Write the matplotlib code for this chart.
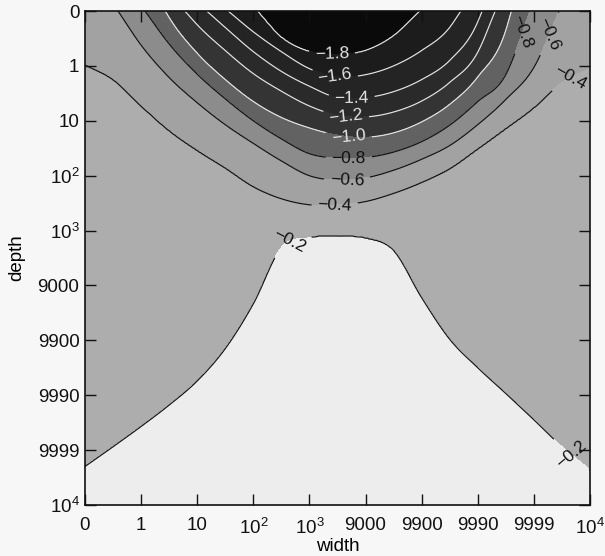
import numpy as np
import matplotlib
matplotlib.use("Agg")
import matplotlib.pyplot as plt

plt.rcParams['font.family'] = ['Liberation Sans', 'DejaVu Sans']
plt.rcParams['mathtext.fontset'] = 'custom'
plt.rcParams['mathtext.rm'] = 'Liberation Sans'
plt.rcParams['mathtext.it'] = 'Liberation Sans:italic'

# Axis tick labels (equally spaced positions on both axes)
tick_labels = ["0", "1", "10", "10$^2$", "10$^3$", "9000", "9900", "9990", "9999", "10$^4$"]

levels = [-1.8, -1.6, -1.4, -1.2, -1.0, -0.8, -0.6, -0.4, -0.2]

# Sample columns along the width axis, in tick-index units
width_pos = [0.0, 0.5, 1.0, 1.5, 2.0, 2.5, 3.0, 3.5, 4.0, 4.5,
             5.0, 5.5, 6.0, 6.5, 7.0, 7.5, 8.0, 8.5, 9.0]

nan = np.nan
# Depth (tick-index units) at which each contour level is crossed in each column
depth_m18 = [nan, nan, nan, nan, nan, nan, nan, 0.48, 0.74, 0.79,
             0.72, 0.45, nan, nan, nan, nan, nan, nan, nan]
depth_m16 = [nan, nan, nan, nan, nan, nan, 0.38, 0.74, 1.05, 1.20,
             1.16, 1.00, 0.72, 0.30, nan, nan, nan, nan, nan]
depth_m14 = [nan, nan, nan, nan, nan, 0.30, 0.74, 1.10, 1.37, 1.58,
             1.58, 1.47, 1.25, 0.90, 0.20, nan, nan, nan, nan]
depth_m12 = [nan, nan, nan, nan, 0.25, 0.72, 1.14, 1.46, 1.73, 1.90,
             1.93, 1.84, 1.64, 1.30, 0.75, nan, nan, nan, nan]
depth_m10 = [nan, nan, nan, 0.12, 0.77, 1.25, 1.65, 1.94, 2.13, 2.26,
             2.30, 2.22, 2.02, 1.70, 1.20, 0.35, nan, nan, nan]
depth_m08 = [nan, nan, nan, 0.60, 1.15, 1.60, 2.00, 2.33, 2.60, 2.68,
             2.67, 2.57, 2.38, 2.08, 1.65, 1.16, nan, nan, nan]
depth_m06 = [nan, nan, 0.62, 1.21, 1.67, 2.07, 2.41, 2.73, 3.00, 3.08,
             3.04, 2.90, 2.70, 2.45, 2.07, 1.61, 1.03, nan, nan]
depth_m04 = [0.98, 1.25, 1.73, 2.18, 2.54, 2.86, 3.20, 3.42, 3.53, 3.53,
             3.47, 3.32, 3.12, 2.87, 2.51, 2.14, 1.76, 1.30, 1.04]
depth_m02 = [8.30, 7.94, 7.57, 7.18, 6.74, 6.15, 5.33, 4.30, 4.12, 4.10,
             4.13, 4.36, 5.22, 5.98, 6.50, 6.97, 7.45, 7.94, 8.36]
crossings = [depth_m18, depth_m16, depth_m14, depth_m12, depth_m10,
             depth_m08, depth_m06, depth_m04, depth_m02]

# Where the levels -1.8 ... -0.6 meet the top edge (left and right side)
top_cross_left = [3.07, 2.55, 2.17, 1.78, 1.43, 1.07, 0.59]
top_cross_right = [5.97, 6.70, 7.08, 7.31, 7.60, 7.93, 8.45]

# Field values along the top edge and the bottom edge
top_u = [0.0, 4.5, 9.0]
top_z = [-0.52, -1.95, -0.52]
bottom_value = [-0.17, -0.15, -0.13, -0.11, -0.09, -0.07, -0.05, -0.04, -0.03, -0.03,
                -0.03, -0.04, -0.05, -0.07, -0.09, -0.11, -0.13, -0.15, -0.17]


def hermite(xk, yk, x):
    xk = np.asarray(xk, float)
    yk = np.asarray(yk, float)
    m = np.gradient(yk, xk)
    i = np.clip(np.searchsorted(xk, x) - 1, 0, len(xk) - 2)
    h = xk[i + 1] - xk[i]
    t = (x - xk[i]) / h
    h00 = 2 * t**3 - 3 * t**2 + 1
    h10 = t**3 - 2 * t**2 + t
    h01 = -2 * t**3 + 3 * t**2
    h11 = t**3 - t**2
    return h00 * yk[i] + h10 * h * m[i] + h01 * yk[i + 1] + h11 * h * m[i + 1]


# Level curves as depth(width), each tied to the top edge where it ends
fine_u = np.linspace(0.0, 9.0, 451)
fine_v = np.linspace(0.0, 9.0, 451)
curves = []
for k, (lev, dep) in enumerate(zip(levels, crossings)):
    uk = [u for u, d in zip(width_pos, dep) if not np.isnan(d)]
    dk = [d for d in dep if not np.isnan(d)]
    if k < len(top_cross_left):
        uk = [top_cross_left[k]] + uk + [top_cross_right[k]]
        dk = [0.0] + dk + [0.0]
        lo, hi = top_cross_left[k], top_cross_right[k]
    else:
        lo, hi = 0.0, 9.0
    d = hermite(uk, dk, fine_u)
    d[(fine_u < lo) | (fine_u > hi)] = np.nan
    curves.append(d)

# Top-edge profile through the points where levels meet the edge
edge_u = list(top_u[:1]) + top_cross_left[::-1] + [top_u[1]] + top_cross_right + list(top_u[2:])
edge_z = list(top_z[:1]) + levels[:7][::-1] + [top_z[1]] + levels[:7] + list(top_z[2:])
top_line = np.interp(fine_u, edge_u, edge_z)
bottom_line = np.interp(fine_u, width_pos, bottom_value)

Z = np.empty((fine_v.size, fine_u.size))
for j in range(fine_u.size):
    pts = [(0.0, top_line[j])]
    for lev, d in zip(levels, curves):
        if not np.isnan(d[j]) and 0.0 < d[j] < 9.0:
            pts.append((d[j], lev))
    pts.append((9.0, bottom_line[j]))
    pts.sort()
    Z[:, j] = np.interp(fine_v, [p[0] for p in pts], [p[1] for p in pts])

U, V = np.meshgrid(fine_u, fine_v)

fig = plt.figure(figsize=(6.05, 5.56), dpi=100, facecolor='#f7f7f7')
ax = fig.add_axes([85 / 605, 1 - 505 / 556, 505 / 605, 494 / 556])

fill_levels = [-3.0] + levels + [1.0]
fill_colors = ['#0a0a0a', '#1c1c1c', '#242424', '#2a2a2a', '#343434',
               '#626262', '#8c8c8c', '#a2a2a2', '#adadad', '#ededed']
ax.contourf(U, V, Z, levels=fill_levels, colors=fill_colors)

dark_levels = [-1.8, -1.6, -1.4, -1.2, -1.0]
light_levels = [-0.8, -0.6, -0.4, -0.2]
cs_w = ax.contour(U, V, Z, levels=dark_levels, colors='#e4e4e4',
                  linewidths=0.85, linestyles='solid')
cs_k = ax.contour(U, V, Z, levels=light_levels, colors='#111111',
                  linewidths=0.85, linestyles='solid')


def fmt(x):
    return f"{x:.1f}".replace("-", "\u2212")


ax.clabel(cs_w, levels=dark_levels, inline=True, fmt=fmt, fontsize=12.5,
          colors='#e4e4e4', inline_spacing=6,
          manual=[(4.4, 0.79), (4.45, 1.2), (4.75, 1.58), (4.65, 1.92), (4.7, 2.28)])
ax.clabel(cs_k, levels=light_levels, inline=True, fmt=fmt, fontsize=12.5,
          colors='#111111', inline_spacing=6,
          manual=[(4.7, 2.67), (4.67, 3.07), (4.45, 3.53),
                  (7.85, 0.4), (8.35, 0.45), (8.65, 1.2),
                  (3.65, 4.2), (8.65, 8.1)])

ax.set_xlim(0, 9)
ax.set_ylim(9, 0)
ticks = list(range(10))
ax.set_xticks(ticks)
ax.set_xticklabels(tick_labels)
ax.set_yticks(ticks)
ax.set_yticklabels(tick_labels)
ax.tick_params(direction='in', length=8, width=1.0, top=True, right=True,
               labelsize=13.5, colors='#111111')
ax.tick_params(axis='x', pad=9)
ax.tick_params(axis='y', pad=4)
for s in ax.spines.values():
    s.set_linewidth(1.2)
    s.set_color('#111111')

ax.set_xlabel("width", fontsize=13.5, labelpad=0)
ax.set_ylabel("depth", fontsize=13.5, labelpad=9)

fig.savefig("out.png", dpi=100, facecolor=fig.get_facecolor())
